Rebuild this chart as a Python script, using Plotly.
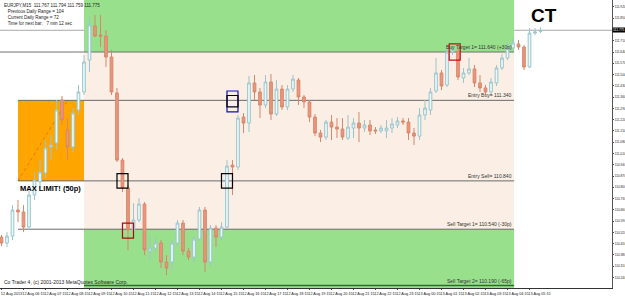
import pandas as pd
import plotly.graph_objects as go

# ---------------- data ----------------
times = pd.date_range("2013-08-12 05:15", periods=99, freq="15min")

opens = [110.491, 110.454, 110.497, 110.659, 110.647, 110.553, 110.752, 110.833, 110.889, 111.050,
         111.075, 111.342, 111.156, 111.050, 111.280, 111.392, 111.590, 111.802, 111.746, 111.739,
         111.609, 111.386, 110.969, 110.796, 110.535, 110.597, 110.696, 110.404, 110.423, 110.454,
         110.336, 110.336, 110.454, 110.578, 110.404, 110.367, 110.479, 110.659, 110.336, 110.547,
         110.491, 110.553, 110.938, 110.926, 111.236, 111.199, 111.448, 111.392, 111.311, 111.454,
         111.255, 111.410, 111.299, 111.410, 111.466, 111.361, 111.330, 111.236, 111.137, 111.112,
         111.205, 111.174, 111.162, 111.106, 111.168, 111.199, 111.168, 111.187, 111.156, 111.150,
         111.150, 111.168, 111.187, 111.212, 111.205, 111.137, 111.118, 111.249, 111.280, 111.398,
         111.510, 111.435, 111.640, 111.646, 111.479, 111.510, 111.535, 111.448, 111.417, 111.392,
         111.448, 111.541, 111.603, 111.665, 111.690, 111.671, 111.547, 111.758, 111.767]
highs = [110.504, 110.522, 110.690, 110.721, 110.690, 110.783, 110.895, 110.969, 111.094, 111.125,
         111.342, 111.367, 111.230, 111.292, 111.435, 111.621, 111.857, 111.870, 111.870, 111.777,
         111.653, 111.417, 110.982, 110.814, 110.702, 110.733, 110.709, 110.504, 110.485, 110.473,
         110.379, 110.473, 110.597, 110.597, 110.423, 110.497, 110.678, 110.678, 110.566, 110.566,
         110.584, 110.969, 110.969, 111.249, 111.261, 111.491, 111.497, 111.417, 111.497, 111.503,
         111.466, 111.435, 111.435, 111.497, 111.479, 111.373, 111.342, 111.255, 111.156, 111.218,
         111.249, 111.230, 111.230, 111.249, 111.230, 111.268, 111.218, 111.218, 111.174, 111.187,
         111.218, 111.230, 111.236, 111.230, 111.230, 111.168, 111.292, 111.342, 111.417, 111.603,
         111.528, 111.665, 111.677, 111.665, 111.541, 111.603, 111.559, 111.497, 111.435, 111.479,
         111.559, 111.628, 111.702, 111.727, 111.715, 111.684, 111.789, 111.789, 111.794]
lows = [110.435, 110.429, 110.473, 110.584, 110.522, 110.535, 110.721, 110.796, 110.858, 110.969,
        111.032, 111.187, 110.969, 111.019, 111.249, 111.373, 111.516, 111.733, 111.671, 111.547,
        111.373, 110.957, 110.771, 110.411, 110.522, 110.584, 110.379, 110.348, 110.398, 110.299,
        110.255, 110.286, 110.435, 110.379, 110.348, 110.336, 110.466, 110.274, 110.311, 110.429,
        110.473, 110.541, 110.752, 110.907, 111.137, 111.143, 111.342, 111.230, 111.292, 111.218,
        111.243, 111.280, 111.280, 111.392, 111.311, 111.292, 111.205, 111.118, 111.081, 111.094,
        111.094, 111.106, 111.094, 111.094, 111.106, 111.081, 111.143, 111.125, 111.131, 111.137,
        111.106, 111.137, 111.168, 111.187, 111.094, 111.063, 111.094, 111.218, 111.249, 111.386,
        111.404, 111.423, 111.621, 111.466, 111.448, 111.497, 111.423, 111.392, 111.373, 111.373,
        111.429, 111.528, 111.590, 111.653, 111.653, 111.528, 111.541, 111.746, 111.759]
closes = [110.454, 110.497, 110.659, 110.647, 110.553, 110.752, 110.845, 110.895, 111.044, 111.063,
          111.280, 111.218, 111.050, 111.261, 111.392, 111.578, 111.808, 111.739, 111.739, 111.609,
          111.392, 110.969, 110.796, 110.535, 110.597, 110.696, 110.411, 110.423, 110.454, 110.336,
          110.299, 110.454, 110.578, 110.404, 110.367, 110.479, 110.659, 110.336, 110.547, 110.491,
          110.553, 110.932, 110.926, 111.230, 111.199, 111.448, 111.392, 111.311, 111.454, 111.255,
          111.410, 111.299, 111.410, 111.472, 111.361, 111.330, 111.236, 111.137, 111.112, 111.205,
          111.174, 111.162, 111.112, 111.174, 111.199, 111.168, 111.187, 111.150, 111.150, 111.168,
          111.168, 111.193, 111.212, 111.205, 111.137, 111.118, 111.249, 111.292, 111.392, 111.510,
          111.429, 111.640, 111.653, 111.485, 111.510, 111.535, 111.448, 111.417, 111.392, 111.454,
          111.541, 111.603, 111.665, 111.696, 111.671, 111.547, 111.758, 111.764, 111.775]

price_ticks = [110.240, 110.310, 110.380, 110.450, 110.520, 110.590, 110.660, 110.730,
               110.800, 110.870, 110.940, 111.010, 111.080, 111.150, 111.220, 111.290, 111.360,
               111.430, 111.500, 111.570, 111.640, 111.710, 111.850, 111.920]
time_tick_idx = list(range(0, 99, 4))
time_labels = ["12 Aug 2013"] + [times[i].strftime("%d %b %H:%M") for i in time_tick_idx[1:]]

entry_buy = 111.340
entry_sell = 110.840
buy_target1 = 111.640
sell_target1 = 110.540
sell_target2 = 110.190
current_price = 111.775

line_labels = {
    "buy_t1": "Buy Target 1= 111.640 (+30p)",
    "entry_buy": "Entry Buy= 111.340",
    "entry_sell": "Entry Sell= 110.840",
    "sell_t1": "Sell Target 1= 110.540 (-30p)",
    "sell_t2": "Sell Target 2= 110.190 (-65p)",
}

zone_start = pd.Timestamp("2013-08-12 09:00")
zone_end = pd.Timestamp("2013-08-13 04:33")
limit_start = pd.Timestamp("2013-08-12 06:00")
trend_end = pd.Timestamp("2013-08-12 08:15")
day_sep = pd.Timestamp("2013-08-13 00:00")

# marker boxes: (centre time, low, high, colour)
boxes = [
    ("2013-08-12 10:45", 110.795, 110.885, "#000000"),
    ("2013-08-12 15:30", 110.795, 110.885, "#000000"),
    ("2013-08-12 11:00", 110.485, 110.578, "#A01010"),
    ("2013-08-12 15:45", 111.268, 111.398, "#1010C0"),
    ("2013-08-12 15:45", 111.300, 111.370, "#000000"),
    ("2013-08-13 01:51", 111.590, 111.690, "#C01010"),
]

# ---------------- figure ----------------
bar = pd.Timedelta("15min")
x_lo = times[0] - 0.27 * bar
x_hi = times[0] + 111.0 * bar
y_lo, y_hi = 110.175, 111.963

fig = go.Figure()
fig.add_trace(go.Candlestick(
    x=times, open=opens, high=highs, low=lows, close=closes,
    increasing=dict(fillcolor="#E6FAFA", line=dict(color="#9CC4CC", width=1)),
    decreasing=dict(fillcolor="#E9967A", line=dict(color="#D9876C", width=1)),
    whiskerwidth=0, showlegend=False, hoverinfo="skip",
))

shapes = []
shapes.append(dict(type="rect", xref="x", yref="y", x0=zone_start, x1=zone_end, y0=buy_target1, y1=y_hi,
                   fillcolor="#99E08C", line_width=0, layer="below"))
shapes.append(dict(type="rect", xref="x", yref="y", x0=zone_start, x1=zone_end, y0=sell_target1, y1=buy_target1,
                   fillcolor="#FAEEE5", line_width=0, layer="below"))
shapes.append(dict(type="rect", xref="x", yref="y", x0=zone_start, x1=zone_end, y0=y_lo, y1=sell_target1,
                   fillcolor="#99E08C", line_width=0, layer="below"))
shapes.append(dict(type="rect", xref="x", yref="y", x0=limit_start, x1=zone_start, y0=entry_sell, y1=entry_buy,
                   fillcolor="#FFA500", line_width=0, layer="below"))
shapes.append(dict(type="line", xref="x", yref="y", x0=limit_start, x1=trend_end, y0=entry_sell, y1=entry_buy,
                   line=dict(color="#E07800", width=1, dash="dot"), layer="below"))
shapes.append(dict(type="line", xref="x", yref="paper", x0=day_sep, x1=day_sep, y0=0, y1=1,
                   line=dict(color="#7A7A7A", width=1, dash="dot"), layer="below"))
shapes.append(dict(type="line", xref="paper", yref="y", x0=0, x1=1, y0=current_price, y1=current_price,
                   line=dict(color="#A8A8A8", width=1), layer="below"))
shapes.append(dict(type="line", xref="x", yref="y", x0=x_lo, x1=zone_end, y0=buy_target1, y1=buy_target1,
                   line=dict(color="#707070", width=1), layer="below"))
for lvl in (entry_buy, entry_sell, sell_target1):
    shapes.append(dict(type="line", xref="x", yref="y", x0=limit_start, x1=zone_end, y0=lvl, y1=lvl,
                       line=dict(color="#6A6A6A", width=1), layer="below"))
shapes.append(dict(type="line", xref="x", yref="y", x0=zone_start, x1=zone_end, y0=sell_target2, y1=sell_target2,
                   line=dict(color="#2F6B2F", width=1.5), layer="below"))
for c, lo, hi, col in boxes:
    t = pd.Timestamp(c)
    shapes.append(dict(type="rect", xref="x", yref="y", x0=t - bar, x1=t + bar, y0=lo, y1=hi,
                       line=dict(color=col, width=1.2), fillcolor="rgba(0,0,0,0)"))

annotations = []
small = dict(family="Liberation Sans, Arial", size=5, color="#333333")
for key, lvl in (("buy_t1", buy_target1), ("entry_buy", entry_buy), ("entry_sell", entry_sell),
                 ("sell_t1", sell_target1), ("sell_t2", sell_target2)):
    annotations.append(dict(x=zone_end, y=lvl, xref="x", yref="y", text=line_labels[key], showarrow=False,
                            xanchor="right", yanchor="bottom", font=small))
annotations.append(dict(x=limit_start, y=entry_sell, xref="x", yref="y", text="<b>MAX LIMIT! (50p)</b>",
                        showarrow=False, xanchor="left", yanchor="top", yshift=-1,
                        font=dict(family="Liberation Sans, Arial", size=7.5, color="#000000")))
annotations.append(dict(x=0.889, y=0.945, xref="paper", yref="paper", text="<b>CT</b>", showarrow=False,
                        xanchor="center", yanchor="middle",
                        font=dict(family="Liberation Sans, Arial", size=19, color="#000000")))
info = ("EURJPY,M15  111.767 111.794 111.759 111.775<br>"
        "   Previous Daily Range = 104<br>"
        "   Current Daily Range = 72<br>"
        "   Time for next bar:   7 min 12 sec")
annotations.append(dict(x=0.003, y=0.997, xref="paper", yref="paper", text=info, showarrow=False,
                        xanchor="left", yanchor="top", align="left",
                        font=dict(family="Liberation Sans, Arial", size=4.5, color="#222222")))
annotations.append(dict(x=0.003, y=0.0, xref="paper", yref="paper",
                        text="Co Trader 4, (c) 2001-2013 MetaQuotes Software Corp.", showarrow=False,
                        xanchor="left", yanchor="bottom", yshift=1,
                        font=dict(family="Liberation Sans, Arial", size=5, color="#222222")))
annotations.append(dict(x=1, y=current_price, xref="paper", yref="y", text=f"{current_price:.3f}",
                        showarrow=False, xanchor="left", yanchor="middle", xshift=0,
                        bgcolor="#000000", borderpad=0,
                        font=dict(family="Liberation Sans, Arial", size=3.3, color="#FFFFFF")))

fig.update_layout(
    width=625, height=296,
    margin=dict(l=0, r=13, t=0, b=8),
    paper_bgcolor="#FFFFFF", plot_bgcolor="#FFFFFF",
    shapes=shapes, annotations=annotations, showlegend=False,
    xaxis=dict(range=[x_lo, x_hi], rangeslider=dict(visible=False), showgrid=False, zeroline=False,
               automargin=False, tickangle=0,
               tickvals=[times[i] for i in time_tick_idx], ticktext=time_labels,
               tickfont=dict(family="Liberation Sans, Arial", size=3.8, color="#222222"),
               ticks="outside", ticklen=1, tickcolor="#444444", ticklabelshift=10,
               ticklabelstandoff=0,
               showline=True, linecolor="#333333", linewidth=1),
    yaxis=dict(range=[y_lo, y_hi], side="right", showgrid=False, zeroline=False, automargin=False,
               tickvals=price_ticks, ticktext=[f"{v:.3f}" for v in price_ticks],
               tickfont=dict(family="Liberation Sans, Arial", size=3.2, color="#222222"),
               ticks="outside", ticklen=1, tickcolor="#444444", ticklabelstandoff=0,
               showline=True, linecolor="#555555", linewidth=1),
)

fig.write_html("out.html")
